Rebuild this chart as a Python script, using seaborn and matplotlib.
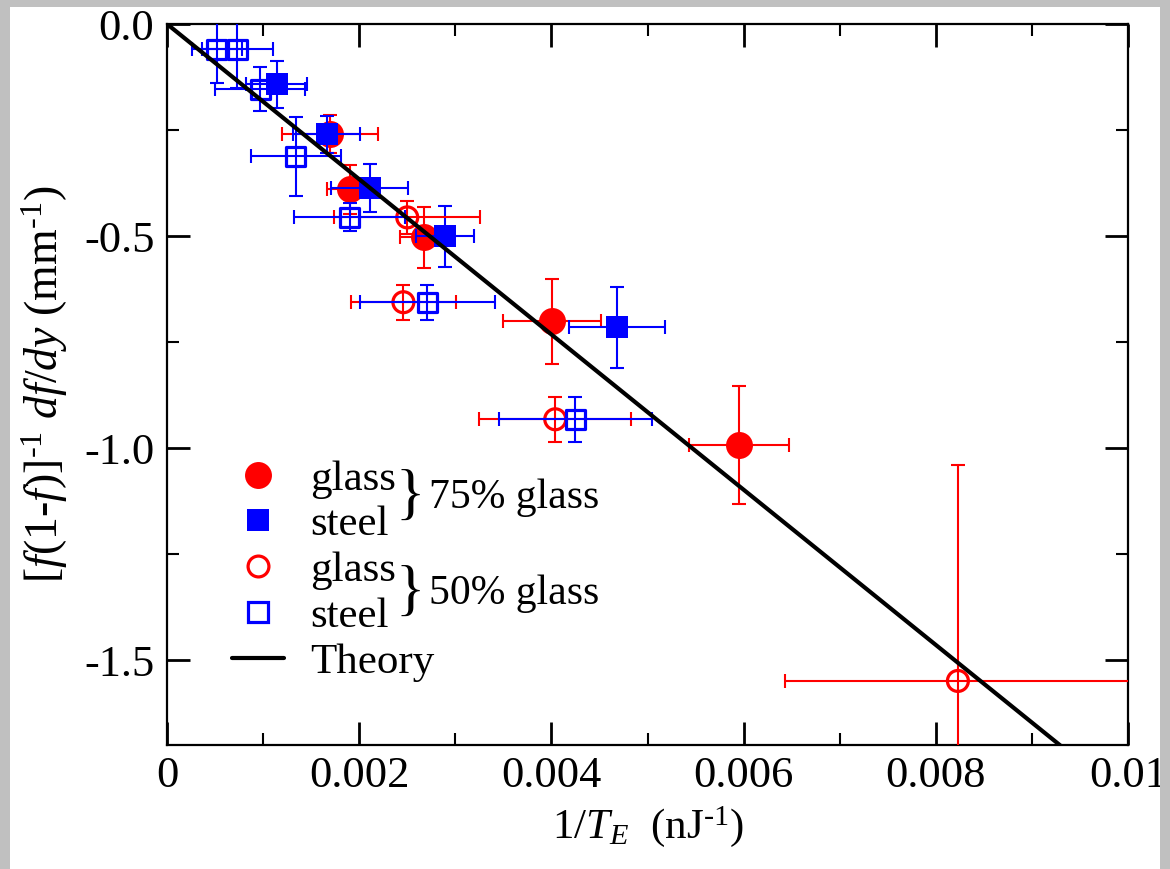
import numpy as np
import matplotlib
matplotlib.use("Agg")
import matplotlib.pyplot as plt
import seaborn as sns
from matplotlib.lines import Line2D
from matplotlib.patches import Rectangle
from matplotlib.ticker import MultipleLocator, FixedLocator, FixedFormatter

# ---- measurements: 75% glass mixture ----
glass75_x = [0.00170, 0.00190, 0.00267, 0.00401, 0.00595]
glass75_y = [-0.260, -0.390, -0.503, -0.701, -0.993]
glass75_xerr = [0.00050, 0.00024, 0.00025, 0.00051, 0.00052]
glass75_yerr = [0.045, 0.057, 0.072, 0.100, 0.139]

steel75_x = [0.00114, 0.00166, 0.00211, 0.00289, 0.00468]
steel75_y = [-0.142, -0.260, -0.387, -0.500, -0.715]
steel75_xerr = [0.00032, 0.00035, 0.00040, 0.00030, 0.00050]
steel75_yerr = [0.055, 0.043, 0.056, 0.072, 0.095]

# ---- measurements: 50% glass mixture ----
glass50_x = [0.00250, 0.00246, 0.00404, 0.00823]
glass50_y = [-0.456, -0.656, -0.932, -1.549]
glass50_xerr = [0.00076, 0.00055, 0.00079, 0.00180]
glass50_yerr = [0.038, 0.041, 0.053, 0.509]

steel50_x = [0.00052, 0.00073, 0.00097, 0.00134, 0.00190, 0.00271, 0.00425]
steel50_y = [-0.060, -0.060, -0.154, -0.312, -0.456, -0.656, -0.932]
steel50_xerr = [0.00026, 0.00037, 0.00047, 0.00047, 0.00058, 0.00070, 0.00080]
steel50_yerr = [0.078, 0.090, 0.052, 0.093, 0.033, 0.041, 0.053]

# ---- theory: straight line through the origin ----
theory_slope = -183.0
theory_x = [0.0, 0.0095]

# ---- axis ticks and labels ----
xtick_values = [0.0, 0.002, 0.004, 0.006, 0.008, 0.01]
xtick_labels = ["0", "0.002", "0.004", "0.006", "0.008", "0.01"]
ytick_values = [0.0, -0.5, -1.0, -1.5]
ytick_labels = ["0.0", "-0.5", "-1.0", "-1.5"]
legend_labels = ["glass", "steel", "glass", "steel", "Theory"]
group_labels = ["75% glass", "50% glass"]

RED = "#ff0000"
BLUE = "#0000ff"

sns.set_theme(style="ticks")
plt.rcParams["font.family"] = ["Liberation Serif", "DejaVu Serif"]
plt.rcParams["mathtext.fontset"] = "custom"
plt.rcParams["mathtext.rm"] = "Liberation Serif"
plt.rcParams["mathtext.it"] = "Liberation Serif:italic"
plt.rcParams["mathtext.bf"] = "Liberation Serif:bold"
plt.rcParams["axes.unicode_minus"] = False
for key in ["text.color", "axes.labelcolor", "xtick.color", "ytick.color",
            "xtick.labelcolor", "ytick.labelcolor", "axes.edgecolor"]:
    plt.rcParams[key] = "black"

fig = plt.figure(figsize=(11.7, 8.69), dpi=100, facecolor="white")
ax = fig.add_axes([167 / 1170, 1 - 745 / 869, (1128 - 167) / 1170, (745 - 24) / 869])
ax.set_facecolor("white")

FILLED_O = 377
FILLED_S = 250
OPEN_O = 227
OPEN_S = 188
ELW = 1.5
CAP = 4.7


def draw_series(x, y, xerr, yerr, color, marker, size, filled, z):
    ax.errorbar(x, y, xerr=xerr, yerr=yerr, fmt="none", ecolor=color,
                elinewidth=ELW, capsize=CAP, capthick=ELW, zorder=z)
    if filled:
        sns.scatterplot(x=x, y=y, ax=ax, marker=marker, s=size, color=color,
                        edgecolor=color, linewidth=0, zorder=z + 0.5, legend=False)
    else:
        sns.scatterplot(x=x, y=y, ax=ax, marker=marker, s=size, color=color,
                        facecolor="none", edgecolor=color, linewidth=2.3,
                        zorder=z + 0.5, legend=False)


draw_series(glass75_x, glass75_y, glass75_xerr, glass75_yerr, RED, "o", FILLED_O, True, 2)
draw_series(steel75_x, steel75_y, steel75_xerr, steel75_yerr, BLUE, "s", FILLED_S, True, 3)
draw_series(glass50_x, glass50_y, glass50_xerr, glass50_yerr, RED, "o", OPEN_O, False, 4)
draw_series(steel50_x, steel50_y, steel50_xerr, steel50_yerr, BLUE, "s", OPEN_S, False, 5)

theory_y = [theory_slope * v for v in theory_x]
sns.lineplot(x=theory_x, y=theory_y, ax=ax, color="black", linewidth=3.0,
             zorder=8, legend=False)

ax.set_xlim(0, 0.01)
ax.set_ylim(-1.7, 0.0)

ax.xaxis.set_major_locator(FixedLocator(xtick_values))
ax.xaxis.set_major_formatter(FixedFormatter(xtick_labels))
ax.xaxis.set_minor_locator(MultipleLocator(0.001))
ax.yaxis.set_major_locator(FixedLocator(ytick_values))
ax.yaxis.set_major_formatter(FixedFormatter(ytick_labels))
ax.yaxis.set_minor_locator(MultipleLocator(0.25))

ax.tick_params(which="both", direction="in", top=True, right=True, colors="black")
ax.tick_params(which="major", length=16.5, width=2.0, labelsize=32)
ax.tick_params(which="minor", length=8.5, width=1.5)
ax.tick_params(axis="x", which="major", pad=8)
ax.tick_params(axis="y", which="major", pad=9)

for sp in ax.spines.values():
    sp.set_visible(True)
    sp.set_linewidth(1.6)
    sp.set_color("black")

ax.set_xlabel(r"1/$T_E$  (nJ$^{\text{-}1}$)", fontsize=31, labelpad=6)
ax.set_ylabel(r"[$f$(1-$f$)]$^{\text{-}1}$ $df/dy$ (mm$^{\text{-}1}$)",
              fontsize=33, labelpad=10)

handles = [
    Line2D([], [], ls="none", marker="o", markersize=19.4, markerfacecolor=RED,
           markeredgecolor=RED, markeredgewidth=0),
    Line2D([], [], ls="none", marker="s", markersize=15.8, markerfacecolor=BLUE,
           markeredgecolor=BLUE, markeredgewidth=0),
    Line2D([], [], ls="none", marker="o", markersize=15.0, markerfacecolor="none",
           markeredgecolor=RED, markeredgewidth=2.3),
    Line2D([], [], ls="none", marker="s", markersize=13.7, markerfacecolor="none",
           markeredgecolor=BLUE, markeredgewidth=2.3),
    Line2D([], [], color="black", linewidth=3.0),
]
leg = ax.legend(handles, legend_labels, loc="upper left",
                bbox_to_anchor=(0.068, 0.396), frameon=False, fontsize=31,
                handlelength=1.2, handletextpad=0.6, labelspacing=0.155,
                borderpad=0, borderaxespad=0)

ax.text(0.253, 0.343, "}", transform=ax.transAxes, fontsize=44,
        ha="center", va="center", color="black")
ax.text(0.273, 0.343, group_labels[0], transform=ax.transAxes, fontsize=30,
        ha="left", va="center", color="black")
ax.text(0.253, 0.210, "}", transform=ax.transAxes, fontsize=44,
        ha="center", va="center", color="black")
ax.text(0.273, 0.210, group_labels[1], transform=ax.transAxes, fontsize=30,
        ha="left", va="center", color="black")

# light gray frame around the page
gray = "#c0c0c0"
W, H = 1170, 869
for (x0, y0, w, h) in [(0, 0, 10, H), (1160, 0, 10, H), (0, H - 7, W, 7)]:
    fig.patches.append(Rectangle((x0 / W, y0 / H), w / W, h / H,
                                 transform=fig.transFigure, facecolor=gray,
                                 edgecolor="none", zorder=20))

fig.savefig("out.png", dpi=100, facecolor="white")
